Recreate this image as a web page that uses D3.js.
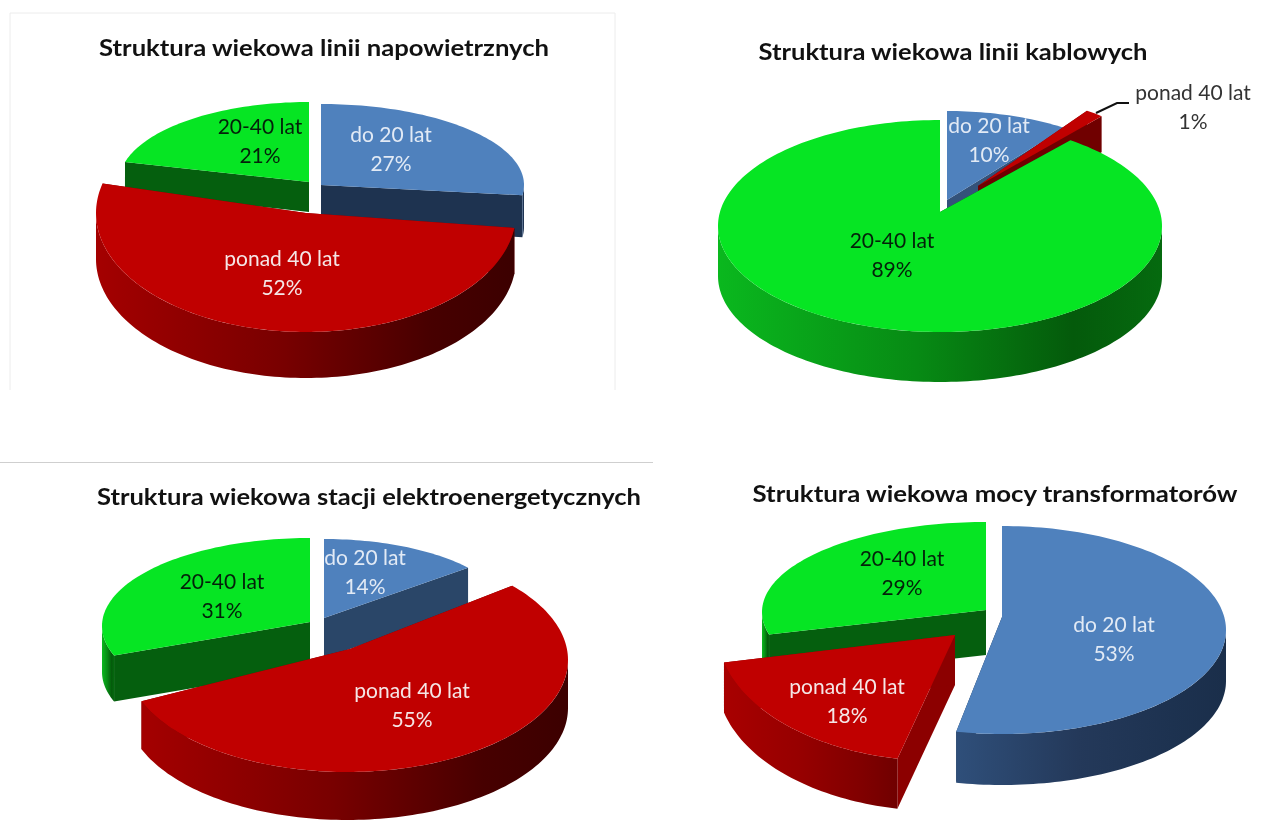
<!DOCTYPE html>
<html>
<head>
<meta charset="utf-8">
<script src="https://cdn.jsdelivr.net/npm/d3@7"></script>
<style>
  html, body { margin: 0; padding: 0; background: #fff; }
  svg { display: block; filter: blur(0.5px); }
</style>
</head>
<body>
<div id="graph-container"></div>
<script>
// Data
var categories = ["do 20 lat", "ponad 40 lat", "20-40 lat"];
var titles = [
  "Struktura wiekowa linii napowietrznych",
  "Struktura wiekowa linii kablowych",
  "Struktura wiekowa stacji elektroenergetycznych",
  "Struktura wiekowa mocy transformatorów"
];
var liniiNapowietrzne = [27, 52, 21];
var liniiKablowe = [10, 1, 89];
var stacje = [14, 55, 31];
var transformatory = [53, 18, 29];
var series = [liniiNapowietrzne, liniiKablowe, stacje, transformatory];

// Colours
var topColors = ["#4f81bd", "#c00000", "#06e523"];
var wallStops = {
  blue: ["#2f4f7a", "#24395a", "#1d3250", "#1a2e4a"],
  red: ["#a40000", "#780000", "#470000", "#3c0000"],
  redShort: ["#a80000", "#960000", "#800000", "#700000"],
  green: ["#0ab81e", "#078a14", "#045a0b", "#056a0f"]
};
var wallNames = ["blue", "red", "green"];
var labelColors = ["#e2eaf5", "#f5e6e6", "#04210a"];

// Layout of each chart, slices in the order of the categories.
// shift = small perspective correction of the rim angles, in degrees
var layouts = [
  {
    titleX: 324, titleY: 50, titleW: 450, order: [2, 0, 1],
    slices: [
      { cx: 321, cy: 185, rx: 203, ry: 81, depth: 42, cut: "#1e3350" },
      { cx: 306, cy: 213, rx: 210, ry: 119, depth: 46, cut: "#750000" },
      { cx: 309, cy: 182, rx: 190, ry: 80, depth: 30, cut: "#055f0e" }
    ],
    labels: [[391, 137], [282, 261], [260, 129]]
  },
  {
    titleX: 953, titleY: 54, titleW: 389, order: [0, 1, 2],
    slices: [
      { cx: 947, cy: 200, rx: 200, ry: 89, depth: 40, cut: "#34527a" },
      { cx: 978, cy: 186, rx: 190, ry: 92, depth: 36, cut: "#700000", shift: [-1, 1] },
      { cx: 940, cy: 226, rx: 222, ry: 106, depth: 50, cut: "#055f0e", tipX: 940, tipY: 212, shift: [-3.6, 0] }
    ],
    labels: [[989, 128], [1193, 95], [892, 243]],
    leader: [[1096, 113], [1117, 103], [1129, 103]]
  },
  {
    titleX: 369, titleY: 499, titleW: 544, order: [2, 0, 1],
    slices: [
      { cx: 324, cy: 618, rx: 187, ry: 79, depth: 40, cut: "#2a4668" },
      { cx: 347, cy: 660, rx: 221, ry: 112, depth: 48, cut: "#750000", tipX: 350, tipY: 649, shift: [-2, 0] },
      { cx: 310, cy: 626, rx: 208, ry: 88, depth: 46, cut: "#055f0e", tipY: 622, shift: [2, 0] }
    ],
    labels: [[365, 560], [412, 693], [222, 584]]
  },
  {
    titleX: 995, titleY: 496, titleW: 485, order: [2, 0, 1],
    slices: [
      { cx: 1002, cy: 630, rx: 224, ry: 104, depth: 51, cut: "#1e3350", tipY: 617, shift: [0, 1] },
      { cx: 939, cy: 630, rx: 222, ry: 131, depth: 50, cut: "#8c0000", tipX: 955, tipY: 635, shade: "redShort" },
      { cx: 986, cy: 612, rx: 224, ry: 90, depth: 45, cut: "#055f0e", tipY: 610 }
    ],
    labels: [[1114, 627], [847, 689], [902, 561]]
  }
];

var svgWidth = 1261;
var svgHeight = 825;

var svg = d3.select("#graph-container")
  .append("svg")
  .attr("width", svgWidth)
  .attr("height", svgHeight);

var defs = svg.append("defs");

// Thin frame lines left over in the picture
var frame = d3.line();
svg.append("path")
  .attr("d", frame([[10, 390], [10, 13], [615, 13], [615, 390]]))
  .attr("fill", "none")
  .attr("stroke", "#ececec");
svg.append("path")
  .attr("d", frame([[0, 462.5], [653, 462.5]]))
  .attr("fill", "none")
  .attr("stroke", "#cfcfcf");

var pie = d3.pie().sort(null);
var line = d3.line();
var fontFamily = "Lato, 'Open Sans', sans-serif";
var RIGHT = Math.PI / 2;
var LEFT = Math.PI * 1.5;
var DEG = Math.PI / 180;

function rimPoint(s, a, dy) {
  return [s.cx + s.rx * Math.sin(a), s.cy - s.ry * Math.cos(a) + dy];
}

function sampleAngles(a0, a1) {
  var n = Math.max(2, Math.ceil((a1 - a0) * 40));
  return d3.range(n + 1).map(function (i) { return a0 + (a1 - a0) * i / n; });
}

function tipPoint(s, dy) {
  return [s.tipX === undefined ? s.cx : s.tipX, (s.tipY === undefined ? s.cy : s.tipY) + dy];
}

series.forEach(function (values, c) {
  var layout = layouts[c];
  var arcs = pie(values);
  var chart = svg.append("g");

  // Title
  chart.append("text")
    .attr("x", layout.titleX)
    .attr("y", layout.titleY)
    .attr("text-anchor", "middle")
    .attr("dominant-baseline", "middle")
    .attr("textLength", layout.titleW)
    .attr("lengthAdjust", "spacingAndGlyphs")
    .style("font-family", fontFamily)
    .style("font-size", "23px")
    .style("font-weight", "bold")
    .style("fill", "#111")
    .text(titles[c]);

  // Slices, back to front
  layout.order.forEach(function (i) {
    var d = arcs[i];
    var s = layout.slices[i];
    var g = chart.append("g");
    var shift = s.shift || [0, 0];
    var start = d.startAngle + shift[0] * DEG;
    var end = d.endAngle + shift[1] * DEG;

    // The two straight cut walls
    [start, end].forEach(function (a) {
      g.append("path")
        .attr("d", line([tipPoint(s, 0), rimPoint(s, a, 0), rimPoint(s, a, s.depth), tipPoint(s, s.depth)]) + "Z")
        .attr("fill", s.cut);
    });

    // Outer wall, only the part facing the viewer
    var a0 = Math.max(start, RIGHT);
    var a1 = Math.min(end, LEFT);
    if (a1 > a0) {
      var gradId = "wall-" + c + "-" + i;
      var stops = wallStops[s.shade || wallNames[i]];
      var gradient = defs.append("linearGradient").attr("id", gradId);
      stops.forEach(function (color, k) {
        gradient.append("stop")
          .attr("offset", [0, 0.45, 0.8, 1][k])
          .attr("stop-color", color);
      });
      var angles = sampleAngles(a0, a1);
      var upper = angles.map(function (a) { return rimPoint(s, a, 0); });
      var lower = angles.slice().reverse().map(function (a) { return rimPoint(s, a, s.depth); });
      g.append("path")
        .attr("d", line(upper.concat(lower)) + "Z")
        .attr("fill", "url(#" + gradId + ")");
    }

    // Top face
    var rim = sampleAngles(start, end).map(function (a) { return rimPoint(s, a, 0); });
    g.append("path")
      .attr("d", line([tipPoint(s, 0)].concat(rim)) + "Z")
      .attr("fill", topColors[i]);
  });

  // Leader line for the small slice
  if (layout.leader) {
    chart.append("path")
      .attr("d", line(layout.leader))
      .attr("fill", "none")
      .attr("stroke", "#111")
      .attr("stroke-width", 2);
  }

  // Labels on two rows: name and percent
  arcs.forEach(function (d, i) {
    var pos = layout.labels[i];
    var color = layout.leader && i === 1 ? "#333" : labelColors[i];
    [categories[i], d.value + "%"].forEach(function (row, k) {
      chart.append("text")
        .attr("x", pos[0])
        .attr("y", pos[1] + k * 29)
        .attr("text-anchor", "middle")
        .attr("dominant-baseline", "middle")
        .style("font-family", fontFamily)
        .style("font-size", "21px")
        .style("fill", color)
        .text(row);
    });
  });
});
</script>
</body>
</html>
